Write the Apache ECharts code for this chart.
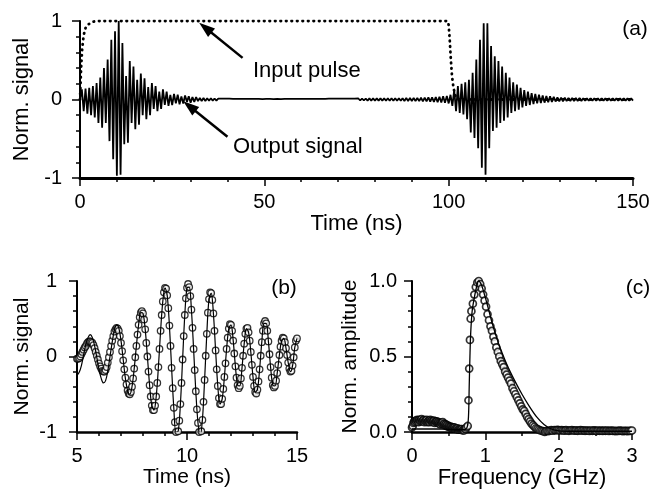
<!DOCTYPE html>
<html><head><meta charset="utf-8">
<script src="https://cdn.jsdelivr.net/npm/echarts/dist/echarts.min.js"></script>
<style>html,body{margin:0;padding:0;background:#fff}#c{width:652px;height:496px}</style>
</head><body><div id="c"></div>
<script>
// ---------- Panel (a): 0..150 ns, output signal sampled every 0.5 ns ----------
const A_DT = 0.5;
const outputSignal = [
  0, 0.13, -0.15, 0.14, -0.18, 0.15, -0.2, 0.17, -0.23, 0.21,
  -0.3, 0.28, -0.36, 0.4, -0.3, 0.51, -0.53, 0.76, -0.76, 0.87,
  -0.97, 1.0, -0.96, 0.72, -0.57, 0.3, -0.55, 0.49, -0.3, 0.42,
  -0.38, 0.25, -0.32, 0.33, -0.2, 0.27, -0.25, 0.16, -0.2, 0.21,
  -0.12, 0.17, -0.15, 0.1, -0.12, 0.13, -0.07, 0.1, -0.08, 0.06,
  -0.07, 0.07, -0.05, 0.06, -0.06, 0.04, -0.05, 0.05, -0.03, 0.04,
  -0.04, 0.03, -0.03, 0.03, -0.02, 0.02, -0.02, 0.02, -0.018, 0.016,
  -0.015, 0.016, -0.014, 0.013, -0.014, 0.012, -0.012, 0.012, -0.011, 0.01,
  -0.011, 0.01, -0.01, 0.009, -0.01, 0.009, -0.008, 0.009, -0.008, 0.008,
  -0.008, 0.007, -0.008, 0.007, -0.007, 0.008, -0.007, 0.007, -0.007, 0.006,
  -0.007, 0.007, -0.006, 0.007, -0.007, 0.006, -0.006, 0.007, -0.007, 0.006,
  -0.007, 0.007, -0.007, 0.007, -0.008, 0.007, -0.007, 0.008, -0.008, 0.007,
  -0.008, 0.008, -0.008, 0.009, -0.008, 0.008, -0.008, 0.008, -0.009, 0.008,
  -0.009, 0.009, -0.009, 0.009, -0.009, 0.01, -0.01, 0.01, -0.01, 0.01,
  -0.01, 0.011, -0.011, 0.011, -0.011, 0.011, -0.012, 0.012, -0.012, 0.012,
  -0.012, 0.013, -0.013, 0.013, -0.013, 0.013, -0.014, 0.014, -0.014, 0.014,
  -0.014, 0.015, -0.015, 0.015, -0.015, 0.015, -0.016, 0.016, -0.016, 0.016,
  -0.016, 0.017, -0.017, 0.017, -0.017, 0.017, -0.018, 0.018, -0.018, 0.019,
  -0.018, 0.019, -0.02, 0.02, -0.021, 0.022, -0.023, 0.024, -0.025, 0.026,
  -0.027, 0.028, -0.03, 0.031, -0.033, 0.035, -0.037, 0.04, -0.043, 0.046,
  -0.05, 0.06, -0.08, 0.12, -0.15, 0.17, -0.17, 0.2, -0.19, 0.22,
  -0.25, 0.25, -0.42, 0.34, -0.49, 0.51, -0.62, 0.76, -0.87, 0.97,
  -0.96, 0.97, -0.62, 0.68, -0.4, 0.55, -0.36, 0.49, -0.3, 0.42,
  -0.27, 0.34, -0.23, 0.28, -0.17, 0.22, -0.15, 0.19, -0.13, 0.15,
  -0.1, 0.12, -0.08, 0.1, -0.07, 0.08, -0.06, 0.07, -0.05, 0.06,
  -0.045, 0.05, -0.04, 0.045, -0.035, 0.04, -0.03, 0.034, -0.026, 0.028,
  -0.024, 0.025, -0.022, 0.023, -0.021, 0.021, -0.02, 0.02, -0.019, 0.019,
  -0.018, 0.018, -0.018, 0.017, -0.017, 0.017, -0.017, 0.016, -0.016, 0.016,
  -0.016, 0.016, -0.016, 0.015, -0.015, 0.015, -0.015, 0.015, -0.015, 0.015,
  -0.015, 0.014, -0.014, 0.014, -0.014, 0.014, -0.014, 0.014, -0.014, 0.014,
  -0.014
];
const pulseTime  = [0, 0.3, 0.6, 1.0, 1.5, 2.0, 2.5, 3.5, 4.5, 99.7, 100.0, 100.3, 100.6, 100.9, 101.3, 101.8, 102.5, 150];
const pulseValue = [0, 0.4, 0.65, 0.82, 0.91, 0.95, 0.975, 0.99, 1.0, 1.0, 0.95, 0.75, 0.5, 0.3, 0.15, 0.05, 0, 0];
const aXTicks = [0, 50, 100, 150];
const aYTicks = [-1, 0, 1];

// ---------- Panel (b): 5..15 ns zoom, measured every 0.05 ns, simulated every 0.1 ns ----------
const B_T0 = 5, B_DT_MEAS = 0.05, B_DT_SIM = 0.1;
const bMeasured = [
  -0.03, -0.03, -0.02, 0.00, 0.03, 0.06, 0.09, 0.12, 0.14, 0.17,
  0.19, 0.20, 0.20, 0.19, 0.18, 0.15, 0.11, 0.06, 0.01, -0.04,
  -0.09, -0.13, -0.16, -0.19, -0.20, -0.20, -0.18, -0.14, -0.08, -0.01,
  0.06, 0.14, 0.21, 0.27, 0.33, 0.36, 0.38, 0.37, 0.34, 0.27,
  0.18, 0.07, -0.05, -0.17, -0.28, -0.37, -0.45, -0.49, -0.50, -0.47,
  -0.40, -0.29, -0.16, -0.01, 0.14, 0.29, 0.42, 0.52, 0.58, 0.60,
  0.57, 0.49, 0.36, 0.18, 0.00, -0.20, -0.38, -0.53, -0.65, -0.71,
  -0.71, -0.65, -0.53, -0.35, -0.14, 0.10, 0.34, 0.55, 0.73, 0.85,
  0.91, 0.90, 0.81, 0.64, 0.41, 0.14, -0.15, -0.42, -0.68, -0.87,
  -1.00, -1.04, -0.99, -0.85, -0.63, -0.35, -0.04, 0.27, 0.55, 0.77,
  0.91, 0.96, 0.92, 0.80, 0.62, 0.38, 0.10, -0.18, -0.46, -0.70,
  -0.88, -1.00, -1.04, -0.99, -0.84, -0.60, -0.31, 0.01, 0.30, 0.58,
  0.76, 0.85, 0.84, 0.75, 0.57, 0.34, 0.08, -0.17, -0.39, -0.55,
  -0.63, -0.63, -0.56, -0.43, -0.27, -0.09, 0.10, 0.25, 0.37, 0.43,
  0.42, 0.34, 0.21, 0.04, -0.13, -0.28, -0.38, -0.42, -0.39, -0.29,
  -0.15, 0.01, 0.17, 0.30, 0.37, 0.38, 0.32, 0.21, 0.06, -0.11,
  -0.27, -0.39, -0.47, -0.49, -0.44, -0.33, -0.17, 0.01, 0.19, 0.34,
  0.44, 0.47, 0.44, 0.34, 0.20, 0.03, -0.14, -0.28, -0.38, -0.41,
  -0.39, -0.32, -0.22, -0.11, 0.02, 0.13, 0.21, 0.25, 0.24, 0.19,
  0.11, 0.02, -0.08, -0.16, -0.20, -0.19, -0.12, -0.01, 0.12, 0.21,
  0.24
];
const bSimulated = [
  -0.25, -0.21, -0.12, 0.02, 0.16, 0.25, 0.29, 0.25, 0.14, -0.01,
  -0.17, -0.29, -0.35, -0.32, -0.19, 0.00, 0.19, 0.35, 0.42, 0.38,
  0.21, -0.04, -0.29, -0.45, -0.50, -0.40, -0.16, 0.14, 0.42, 0.58,
  0.57, 0.36, 0.00, -0.38, -0.65, -0.71, -0.53, -0.14, 0.34, 0.73,
  0.91, 0.81, 0.41, -0.15, -0.68, -1.00, -0.99, -0.63, -0.04, 0.55,
  0.91, 0.92, 0.62, 0.10, -0.46, -0.88, -1.04, -0.84, -0.31, 0.30,
  0.76, 0.84, 0.57, 0.08, -0.39, -0.63, -0.56, -0.27, 0.10, 0.37,
  0.42, 0.21, -0.13, -0.38, -0.39, -0.15, 0.17, 0.37, 0.32, 0.06,
  -0.27, -0.47, -0.44, -0.17, 0.19, 0.44, 0.44, 0.20, -0.14, -0.38,
  -0.39, -0.22, 0.02, 0.21, 0.24, 0.11, -0.08, -0.20, -0.12, 0.12,
  0.24
];
const bXTicks = [5, 10, 15];
const bYTicks = [-1, 0, 1];

// ---------- Panel (c): spectrum ----------
// low-frequency band, 0.00..0.74 GHz every 0.01 GHz
const C_LOW_F0 = 0, C_LOW_DF = 0.01;
const cLowAmp = [
  0.03, 0.04, 0.06, 0.07, 0.065, 0.075, 0.07, 0.08, 0.075, 0.065,
  0.08, 0.07, 0.075, 0.085, 0.07, 0.075, 0.08, 0.065, 0.075, 0.07,
  0.08, 0.065, 0.07, 0.075, 0.065, 0.08, 0.07, 0.075, 0.065, 0.07,
  0.075, 0.06, 0.07, 0.065, 0.07, 0.06, 0.065, 0.055, 0.06, 0.05,
  0.06, 0.055, 0.065, 0.05, 0.055, 0.045, 0.05, 0.04, 0.045, 0.035,
  0.04, 0.035, 0.03, 0.035, 0.03, 0.025, 0.03, 0.025, 0.03, 0.02,
  0.025, 0.02, 0.025, 0.015, 0.02, 0.015, 0.02, 0.015, 0.02, 0.01,
  0.015, 0.01, 0.02, 0.02, 0.03
];
// resonance peak
const cPeakFreq = [
  0.76, 0.77, 0.78, 0.79, 0.80, 0.81,
  0.83, 0.85, 0.87, 0.89, 0.91, 0.93, 0.95, 0.97, 0.99, 1.01,
  1.03, 1.05, 1.07, 1.09, 1.11, 1.13, 1.15, 1.17, 1.19, 1.21,
  1.23, 1.25, 1.27, 1.29, 1.31, 1.33, 1.35, 1.37, 1.39, 1.41,
  1.43, 1.45, 1.47, 1.49, 1.51, 1.53, 1.55, 1.57, 1.59, 1.61,
  1.63, 1.65, 1.67, 1.69, 1.71, 1.73, 1.75, 1.77, 1.79, 1.81
];
const cPeakAmp = [
  0.04, 0.21, 0.42, 0.61, 0.75, 0.80,
  0.85, 0.91, 0.96, 0.99, 1.00, 0.98, 0.95, 0.91, 0.87, 0.83,
  0.78, 0.74, 0.70, 0.67, 0.63, 0.60, 0.56, 0.53, 0.50, 0.47,
  0.45, 0.43, 0.40, 0.38, 0.36, 0.34, 0.32, 0.29, 0.27, 0.25,
  0.23, 0.21, 0.19, 0.17, 0.15, 0.14, 0.12, 0.10, 0.085, 0.07,
  0.055, 0.045, 0.035, 0.025, 0.02, 0.015, 0.01, 0.008, 0.005, 0.0
];
// high-frequency tail, 1.82..3.00 GHz every 0.02 GHz
const C_TAIL_F0 = 1.82, C_TAIL_DF = 0.02;
const cTailAmp = [
  0.005, 0.008, 0.006, 0.01, 0.012, 0.009, 0.013, 0.011, 0.014, 0.012,
  0.01, 0.013, 0.011, 0.009, 0.012, 0.01, 0.008, 0.011, 0.013, 0.01,
  0.009, 0.011, 0.008, 0.01, 0.012, 0.009, 0.011, 0.008, 0.01, 0.009,
  0.007, 0.01, 0.008, 0.011, 0.009, 0.007, 0.01, 0.008, 0.009, 0.007,
  0.009, 0.008, 0.01, 0.007, 0.008, 0.009, 0.007, 0.008, 0.006, 0.008,
  0.007, 0.009, 0.007, 0.006, 0.008, 0.007, 0.006, 0.008, 0.007, 0.01
];
const cSimFreq = [0,0.2,0.4,0.6,0.7,0.75,0.77,0.78,0.79,0.80,0.82,0.85,0.88,0.91,0.95,1.0,1.05,1.1,1.15,1.2,1.3,1.4,1.5,1.6,1.7,1.8,1.9,2.0,2.2,2.5,3.0];
const cSimAmp  = [0.02,0.02,0.02,0.015,0.015,0.03,0.1,0.3,0.5,0.65,0.8,0.89,0.96,1.0,0.97,0.89,0.8,0.71,0.63,0.56,0.44,0.34,0.25,0.17,0.1,0.05,0.02,0.008,0.005,0.005,0.005];
const cXTicks = [0, 1, 2, 3];
const cYTicks = [0, 0.5, 1];

// ---------- Chart ----------
const FONT = "'Liberation Sans', Arial, Helvetica, sans-serif";
const K = '#000';

function axis(gi, ticks, minorSplit, name, nameGap, labelMargin, lineW, fmt, nameSize) {
  return {
    type: 'value', gridIndex: gi,
    min: ticks[0], max: ticks[ticks.length - 1], interval: ticks[1] - ticks[0],
    name: name, nameLocation: 'middle', nameGap: nameGap,
    nameTextStyle: { color: K, fontSize: nameSize, fontFamily: FONT },
    axisLine: { show: true, onZero: false, lineStyle: { color: K, width: lineW } },
    axisTick: { show: true, inside: false, length: 8, lineStyle: { color: K, width: 1.5 } },
    minorTick: { show: true, splitNumber: minorSplit, length: 4, lineStyle: { color: K, width: 1.5 } },
    splitLine: { show: false }, minorSplitLine: { show: false },
    axisLabel: { color: K, fontSize: 20, fontFamily: FONT, margin: labelMargin,
                 formatter: fmt || (v => String(v)), showMinLabel: true, showMaxLabel: true }
  };
}

const cMeasured = []
  .concat(cLowAmp.map((v, i) => [C_LOW_F0 + i * C_LOW_DF, v]))
  .concat(cPeakFreq.map((f, i) => [f, cPeakAmp[i]]))
  .concat(cTailAmp.map((v, i) => [C_TAIL_F0 + i * C_TAIL_DF, v]));

const chart = echarts.init(document.getElementById('c'), null, { renderer: 'canvas' });
const option = {
  animation: false,
  backgroundColor: '#fff',
  grid: [
    { left: 80, top: 21, width: 553, height: 157, outerBoundsMode: 'none', containLabel: false },
    { left: 77, top: 281, width: 220, height: 151, outerBoundsMode: 'none', containLabel: false },
    { left: 412, top: 281, width: 220, height: 151, outerBoundsMode: 'none', containLabel: false }
  ],
  xAxis: [
    axis(0, aXTicks, 5, 'Time (ns)', 30, 14, 3, null, 22),
    axis(1, bXTicks, 5, 'Time (ns)', 32, 14, 2.5, null, 21),
    axis(2, cXTicks, 2, 'Frequency (GHz)', 32, 14, 2.5, null, 22)
  ],
  yAxis: [
    axis(0, aYTicks, 5, 'Norm. signal', 46, 18, 2, null, 22),
    axis(1, bYTicks, 5, 'Norm. signal', 44, 20, 2, null, 21),
    axis(2, cYTicks, 5, 'Norm. amplitude', 51, 15, 2, v => v.toFixed(1), 21)
  ],
  series: [
    {
      type: 'line', xAxisIndex: 0, yAxisIndex: 0, showSymbol: false, clip: true,
      data: outputSignal.map((v, i) => [i * A_DT, v]),
      lineStyle: { color: K, width: 1.8 }, z: 2
    },
    {
      type: 'line', xAxisIndex: 0, yAxisIndex: 0, showSymbol: false, clip: true,
      data: pulseTime.map((t, i) => [t, pulseValue[i]]),
      lineStyle: { color: K, width: 2.8, type: [0.5, 5], cap: 'round' }, z: 3,
      markLine: {
        silent: true, animation: false,
        symbol: ['none', 'triangle'], symbolSize: [11, 16],
        lineStyle: { color: K, width: 2.5, type: 'solid' },
        label: { show: false },
        data: [
          [{ coord: [44.1, 0.53] }, { coord: [34.0, 0.915] }],
          [{ coord: [40.0, -0.475] }, { coord: [29.7, -0.085] }]
        ]
      }
    },
    {
      type: 'scatter', xAxisIndex: 1, yAxisIndex: 1, clip: true,
      data: bMeasured.map((v, i) => [B_T0 + i * B_DT_MEAS, v]),
      symbol: 'circle', symbolSize: 6.5,
      itemStyle: { color: '#fff', borderColor: K, borderWidth: 1.3 }, z: 2
    },
    {
      type: 'line', xAxisIndex: 1, yAxisIndex: 1, showSymbol: false, clip: true, smooth: 0.35,
      data: bSimulated.map((v, i) => [B_T0 + i * B_DT_SIM, v]),
      lineStyle: { color: K, width: 1.2 }, z: 4
    },
    {
      type: 'scatter', xAxisIndex: 2, yAxisIndex: 2, clip: true,
      data: cMeasured,
      symbol: 'circle', symbolSize: 7,
      itemStyle: { color: '#fff', borderColor: K, borderWidth: 1.7 }, z: 2
    },
    {
      type: 'line', xAxisIndex: 2, yAxisIndex: 2, showSymbol: false, clip: true, smooth: 0.3,
      data: cSimFreq.map((f, i) => [f, cSimAmp[i]]),
      lineStyle: { color: K, width: 1.3 }, z: 4
    }
  ],
  graphic: [
    { type: 'text', x: 253, y: 71, silent: true,
      style: { text: 'Input pulse', font: '22px ' + FONT, fill: K, align: 'left', verticalAlign: 'middle', textAlign: 'left', textVerticalAlign: 'middle' } },
    { type: 'text', x: 233, y: 147, silent: true,
      style: { text: 'Output signal', font: '22px ' + FONT, fill: K, align: 'left', verticalAlign: 'middle', textAlign: 'left', textVerticalAlign: 'middle' } },
    { type: 'text', x: 635, y: 29, silent: true,
      style: { text: '(a)', font: '21px ' + FONT, fill: K, align: 'center', verticalAlign: 'middle', textAlign: 'center', textVerticalAlign: 'middle' } },
    { type: 'text', x: 284, y: 288, silent: true,
      style: { text: '(b)', font: '21px ' + FONT, fill: K, align: 'center', verticalAlign: 'middle', textAlign: 'center', textVerticalAlign: 'middle' } },
    { type: 'text', x: 638, y: 288, silent: true,
      style: { text: '(c)', font: '21px ' + FONT, fill: K, align: 'center', verticalAlign: 'middle', textAlign: 'center', textVerticalAlign: 'middle' } }
  ]
};
chart.setOption(option);
</script></body></html>
